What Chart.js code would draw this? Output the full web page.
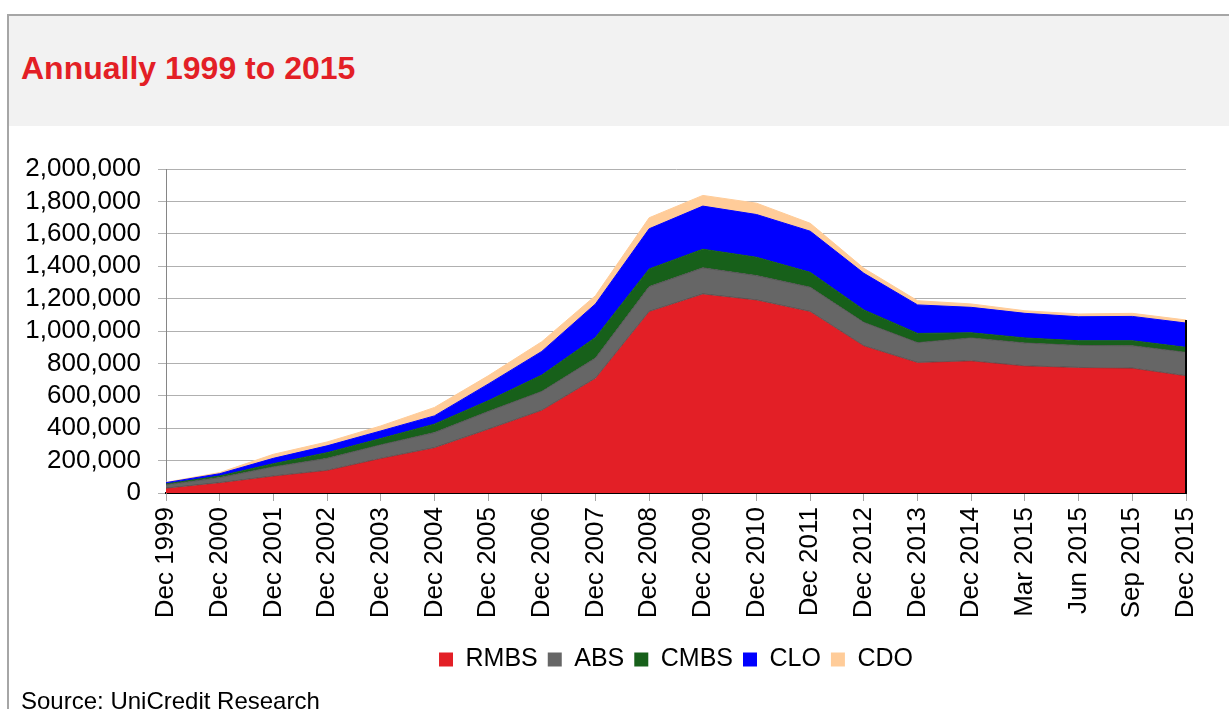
<!DOCTYPE html>
<html>
<head>
<meta charset="utf-8">
<script src="https://cdn.jsdelivr.net/npm/chart.js@4.4.0/dist/chart.umd.min.js"></script>
<style>
  html, body { margin: 0; padding: 0; background: #fff; width: 1229px; height: 709px; overflow: hidden; position: relative; font-family: "Liberation Sans", Arial, sans-serif; }
  #frame { position: absolute; left: 7px; top: 14px; width: 1240px; height: 720px; border-left: 2px solid #a6a6a6; border-top: 2px solid #a6a6a6; box-sizing: border-box; }
  #header { position: absolute; left: 9px; top: 16px; width: 1230px; height: 110px; background: #f2f2f2; }
  #title { position: absolute; left: 21px; top: 52px; font-size: 32px; line-height: 32px; font-weight: bold; color: #e31f26; white-space: nowrap; }
  #source { position: absolute; left: 21px; top: 689px; font-size: 24px; line-height: 24px; color: #000; white-space: nowrap; }
  #wrap { position: absolute; left: 0; top: 126px; width: 1229px; height: 583px; }
</style>
</head>
<body>
<div id="frame"></div>
<div id="header"></div>
<div id="title">Annually 1999 to 2015</div>
<div id="wrap"><canvas id="c"></canvas></div>
<div id="source">Source: UniCredit Research</div>
<script>
const categories = ["Dec 1999","Dec 2000","Dec 2001","Dec 2002","Dec 2003","Dec 2004","Dec 2005","Dec 2006","Dec 2007","Dec 2008","Dec 2009","Dec 2010","Dec 2011","Dec 2012","Dec 2013","Dec 2014","Mar 2015","Jun 2015","Sep 2015","Dec 2015"];
const rmbs = [30000, 64000, 105000, 140000, 214000, 280000, 394000, 511000, 709000, 1121000, 1229000, 1192000, 1121000, 909000, 806000, 816000, 785000, 775000, 771000, 724000];
const abs  = [20000, 31000, 56000, 74000, 83000, 93000, 109000, 116000, 124000, 153000, 161000, 150000, 149000, 144000, 122000, 141000, 141000, 136000, 138000, 144000];
const cmbs = [6000, 10000, 20000, 35000, 39000, 52000, 66000, 101000, 127000, 109000, 115000, 113000, 92000, 77000, 57000, 32000, 31000, 29000, 31000, 31000];
const clo  = [8000, 14000, 33000, 42000, 47000, 51000, 103000, 146000, 207000, 248000, 266000, 264000, 254000, 226000, 176000, 157000, 152000, 148000, 150000, 150000];
const cdo  = [2000, 7000, 25000, 24000, 31000, 52000, 51000, 60000, 51000, 68000, 66000, 70000, 49000, 31000, 26000, 21000, 16000, 17000, 19000, 19000];
const yTicks = { min: 0, max: 2000000, step: 200000 };

Chart.defaults.font.family = '"Liberation Sans", Arial, sans-serif';
Chart.defaults.font.size = 25;
Chart.defaults.color = '#000';

const series = [
  { label: 'RMBS', data: rmbs, color: '#e31f26', border: 'rgba(70,70,70,0.7)' },
  { label: 'ABS',  data: abs,  color: '#666666', border: '#555555' },
  { label: 'CMBS', data: cmbs, color: '#17601a', border: '#17601a' },
  { label: 'CLO',  data: clo,  color: '#0000ff', border: '#0000ff' },
  { label: 'CDO',  data: cdo,  color: '#ffcc99', border: '#ffcc99' }
];

const rightEdge = {
  id: 'rightEdge',
  afterDatasetsDraw(chart) {
    const xs = chart.scales.x, ys = chart.scales.y;
    const last = categories.length - 1;
    let total = 0;
    series.forEach(s => total += s.data[last]);
    const ctx = chart.ctx;
    ctx.save();
    ctx.strokeStyle = '#000';
    ctx.lineWidth = 2;
    ctx.beginPath();
    const x = xs.getPixelForValue(last);
    ctx.moveTo(x, ys.getPixelForValue(0));
    ctx.lineTo(x, ys.getPixelForValue(total));
    ctx.stroke();
    ctx.restore();
  }
};

new Chart(document.getElementById('c'), {
  type: 'line',
  data: {
    labels: categories,
    datasets: series.map((s, i) => ({
      label: s.label,
      data: s.data,
      backgroundColor: s.color,
      borderColor: s.border,
      borderWidth: 1,
      pointRadius: 0,
      pointHoverRadius: 0,
      tension: 0,
      fill: i === 0 ? 'origin' : '-1'
    }))
  },
  options: {
    responsive: true,
    maintainAspectRatio: false,
    animation: false,
    layout: { padding: { top: 43, left: 0, right: 43, bottom: 27 } },
    plugins: {
      tooltip: { enabled: false },
      legend: {
        position: 'bottom',
        fullSize: false,
        labels: {
          boxWidth: 14,
          boxHeight: 14,
          padding: 10,
          font: { size: 25 },
          generateLabels(chart) {
            return Chart.defaults.plugins.legend.labels.generateLabels(chart).map(l => Object.assign(l, { strokeStyle: l.fillStyle, lineWidth: 0 }));
          }
        }
      }
    },
    scales: {
      x: {
        grid: { display: true, drawOnChartArea: false, drawTicks: true, tickLength: 8, color: '#a6a6a6' },
        border: { display: true, color: '#000', width: 2 },
        ticks: { autoSkip: false, maxRotation: 90, minRotation: 90, padding: 6, font: { size: 26 } },
        afterFit(scale) { scale.height = 144; }
      },
      y: {
        stacked: true,
        min: yTicks.min,
        max: yTicks.max,
        grid: { color: '#b0b0b0', tickLength: 8, drawTicks: true },
        border: { display: true, color: '#868686', width: 1 },
        ticks: {
          stepSize: yTicks.step,
          autoSkip: false,
          padding: 17,
          font: { size: 26 },
          callback: v => v.toLocaleString('en-US')
        },
        afterFit(scale) { scale.width = 166; }
      }
    }
  },
  plugins: [rightEdge]
});
</script>
</body>
</html>
